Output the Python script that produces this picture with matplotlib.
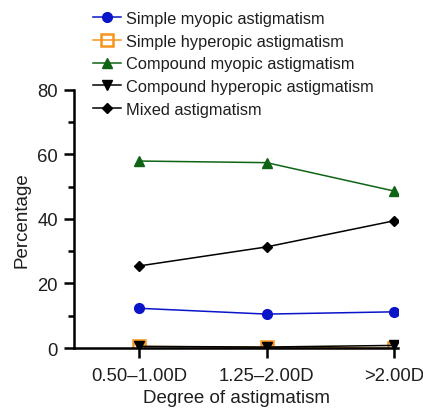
import matplotlib
matplotlib.use("Agg")
import matplotlib.pyplot as plt
from matplotlib.ticker import MultipleLocator

plt.rcParams["font.family"] = ["Liberation Sans", "DejaVu Sans"]

categories = ["0.50\u20131.00D", "1.25\u20132.00D", ">2.00D"]
simple_myopic = [12.3, 10.5, 11.2]
simple_hyperopic = [0.5, 0.2, 0.0]
compound_myopic = [57.9, 57.4, 48.6]
compound_hyperopic = [0.5, 0.3, 0.8]
mixed = [25.4, 31.3, 39.4]

series = [
    ("Simple myopic astigmatism", simple_myopic, "#0a14c8", "o"),
    ("Simple hyperopic astigmatism", simple_hyperopic, "#f7941d", "s"),
    ("Compound myopic astigmatism", compound_myopic, "#0e6414", "^"),
    ("Compound hyperopic astigmatism", compound_hyperopic, "#000000", "v"),
    ("Mixed astigmatism", mixed, "#000000", "D"),
]
text_color = "#1e1e1e"

fig = plt.figure(figsize=(4.23, 4.14), dpi=100)
ax = fig.add_axes([0.175, 0.157, 0.766, 0.624])

x = list(range(len(categories)))
handles = []
for label, vals, color, marker in series:
    kw = dict(color=color, marker=marker, markersize=7, linewidth=1.1, label=label)
    if marker == "D":
        kw["markersize"] = 5.5
    if marker == "s":
        kw.update(markerfacecolor="none", markeredgewidth=1.8, markersize=8)
    (h,) = ax.plot(x, vals, **kw)
    handles.append(h)

ax.set_xlim(-0.508, 2.03)
ax.set_ylim(0, 80)
ax.set_xticks(x)
ax.set_xticklabels(categories)
ax.yaxis.set_major_locator(MultipleLocator(20))
ax.yaxis.set_minor_locator(MultipleLocator(10))

for s in ["top", "right"]:
    ax.spines[s].set_visible(False)
for s in ["left", "bottom"]:
    ax.spines[s].set_linewidth(1.8)
ax.tick_params(axis="both", which="major", width=1.8, length=7, labelsize=13.3,
               color="black", labelcolor=text_color)
ax.tick_params(axis="y", which="minor", width=1.8, length=4)
ax.tick_params(axis="x", pad=7)
ax.tick_params(axis="y", pad=4.5)

ax.set_xlabel("Degree of astigmatism", fontsize=13.5, labelpad=3, color=text_color)
ax.set_ylabel("Percentage", fontsize=13.5, labelpad=5, color=text_color)

leg = fig.legend(handles=handles, loc="upper left", bbox_to_anchor=(93 / 423, 0.971),
                 frameon=False, fontsize=11.8, handlelength=1.7, handletextpad=0.3,
                 labelspacing=0.47, borderpad=0, borderaxespad=0)
for t in leg.get_texts():
    t.set_color(text_color)

fig.savefig("out.png", dpi=100)
